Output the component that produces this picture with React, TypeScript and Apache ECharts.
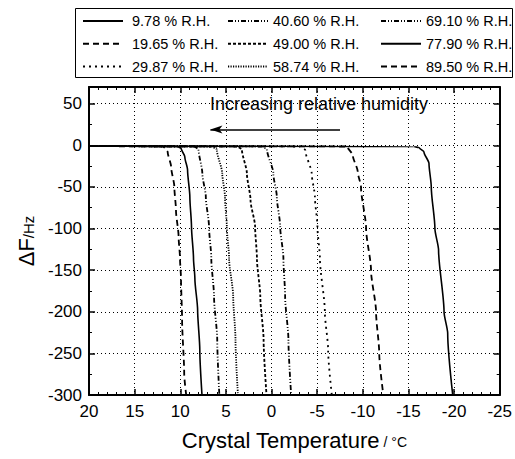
import React, { useEffect, useRef } from "react";
import * as echarts from "echarts";

const seriesNames = [
  "9.78 % R.H.",
  "19.65 % R.H.",
  "29.87 % R.H.",
  "40.60 % R.H.",
  "49.00 % R.H.",
  "58.74 % R.H.",
  "69.10 % R.H.",
  "77.90 % R.H.",
  "89.50 % R.H.",
];

const rh978 = [[20, -1], [-15.6, -1.5], [-16.2, -3], [-16.7, -8], [-17.25, -22], [-17.5, -50], [-17.9, -100], [-18.3, -126], [-18.9, -200], [-19.3, -226], [-19.85, -300]];
const rh1965 = [[20, -1], [-8.3, -1.5], [-8.9, -12], [-9.45, -32], [-9.8, -50], [-10.36, -100], [-10.9, -150], [-11.45, -200], [-11.8, -250], [-12.25, -300]];
const rh2987 = [[20, -1], [-3.2, -1.5], [-3.7, -6], [-4.4, -34], [-4.75, -62], [-5.03, -98], [-5.3, -136], [-5.84, -200], [-6.2, -246], [-6.6, -300]];
const rh4060 = [[20, -1], [1.0, -1.5], [0.5, -5], [-0.2, -34], [-0.58, -62], [-0.95, -98], [-1.3, -136], [-1.49, -182], [-1.85, -234], [-2.15, -300]];
const rh4900 = [[20, -1], [3.7, -1.5], [3.25, -5], [2.7, -34], [2.3, -66], [1.8, -98], [1.6, -136], [1.23, -182], [0.87, -234], [0.55, -300]];
const rh5874 = [[20, -1], [6.5, -1.5], [6.0, -5], [5.4, -34], [5.1, -62], [4.9, -98], [4.65, -136], [4.2, -182], [3.95, -234], [3.68, -300]];
const rh6910 = [[20, -1], [8.4, -1.5], [8.0, -5], [7.58, -34], [7.2, -62], [6.85, -98], [6.6, -136], [6.3, -182], [5.95, -234], [5.72, -300]];
const rh7790 = [[20, -1], [10.3, -1.5], [9.9, -4], [9.5, -14], [9.2, -30], [8.95, -62], [8.77, -98], [8.55, -136], [8.4, -160], [8.1, -198], [7.86, -246], [7.62, -300]];
const rh8950 = [[20, -1], [11.9, -1.5], [11.6, -4], [11.38, -8], [11.0, -26], [10.65, -50], [10.47, -78], [10.18, -110], [10.03, -136], [9.92, -160], [9.8, -210], [9.57, -274], [9.35, -300]];

const seriesData = [rh978, rh1965, rh2987, rh4060, rh4900, rh5874, rh6910, rh7790, rh8950];

const dashTypes: any[] = [
  "solid",
  [6, 4],
  [2, 4],
  [5, 2, 1, 2, 1, 2],
  [3, 2],
  [1.2, 1.3],
  [5, 2, 1, 2, 1, 2],
  "solid",
  [6, 4],
];
const lineWidths = [1.6, 1.8, 1.8, 1.8, 1.8, 1.8, 1.8, 1.6, 1.8];

const arrowFrom = [-7.5, 19];
const arrowTo = [6.7, 19];

const FONT = "Liberation Sans, Arial, sans-serif";

export default function App() {
  const ref = useRef<HTMLDivElement>(null);
  useEffect(() => {
    if (!ref.current) return;
    const chart = echarts.init(ref.current, null, { renderer: "svg" });
    const series: any[] = seriesNames.map((name, i) => ({
      name,
      type: "line",
      data: seriesData[i],
      symbol: "none",
      smooth: 0.25,
      smoothMonotone: "y",
      lineStyle: { color: "#000", width: lineWidths[i], type: dashTypes[i] },
      itemStyle: { color: "#000" },
      z: 3,
    }));
    series[0].markLine = {
      silent: true,
      symbol: ["none", "arrow"],
      symbolSize: [6, 12],
      label: { show: false },
      lineStyle: { color: "#000", width: 1.5, type: "solid" },
      data: [[{ coord: arrowFrom }, { coord: arrowTo }]],
    };
    const legendBase = {
      orient: "vertical",
      top: 13.5,
      padding: 0,
      itemWidth: 40,
      itemHeight: 14,
      itemGap: 7.8,
      itemStyle: { opacity: 0 },
      textStyle: { fontFamily: FONT, fontSize: 14.5, color: "#000" },
      selectedMode: false,
    };
    const axisCommonX = {
      type: "value",
      min: -25,
      max: 20,
      interval: 5,
      inverse: true,
      axisLine: { show: true, onZero: false, lineStyle: { color: "#000", width: 2 } },
      axisTick: { show: true, inside: true, length: 6, lineStyle: { color: "#000", width: 1.5 } },
      minorTick: { show: true, splitNumber: 5, length: 3, lineStyle: { color: "#000", width: 1 } },
    };
    const axisCommonY = {
      type: "value",
      min: -300,
      max: 70,
      interval: 50,
      axisLine: { show: true, onZero: false, lineStyle: { color: "#000", width: 2 } },
      axisTick: { show: true, inside: true, length: 6, lineStyle: { color: "#000", width: 1.5 } },
      minorTick: { show: true, splitNumber: 2, length: 3, lineStyle: { color: "#000", width: 1 } },
    };
    chart.setOption({
      animation: false,
      backgroundColor: "#fff",
      grid: { left: 89, right: 12, top: 87, bottom: 64, containLabel: false },
      legend: [
        { ...legendBase, left: 82, data: seriesNames.slice(0, 3), textStyle: { ...legendBase.textStyle, padding: [0, 0, 0, 4] } },
        { ...legendBase, left: 227, data: seriesNames.slice(3, 6) },
        { ...legendBase, left: 380, data: seriesNames.slice(6, 9) },
      ],
      xAxis: [
        {
          ...axisCommonX,
          position: "bottom",
          name: "{a|Crystal Temperature}{b| / °C}",
          nameLocation: "middle",
          nameGap: 34,
          nameTextStyle: {
            rich: {
              a: { fontFamily: FONT, fontSize: 22, color: "#000" },
              b: { fontFamily: FONT, fontSize: 14, color: "#000", padding: [4, 0, 0, 0] },
            },
          },
          axisLabel: { show: true, margin: 8, fontFamily: FONT, fontSize: 17, color: "#000" },
          splitLine: { show: true, lineStyle: { color: "#000", width: 1, type: [1, 3] } },
        },
        {
          ...axisCommonX,
          position: "top",
          axisLabel: { show: false },
          splitLine: { show: false },
        },
      ],
      yAxis: [
        {
          ...axisCommonY,
          position: "left",
          name: "{a|ΔF}{b|/Hz}",
          nameLocation: "middle",
          nameRotate: 90,
          nameGap: 50,
          nameTextStyle: {
            rich: {
              a: { fontFamily: FONT, fontSize: 22, color: "#000" },
              b: { fontFamily: FONT, fontSize: 15, color: "#000", padding: [4, 0, 0, 0] },
            },
          },
          axisLabel: {
            show: true,
            margin: 7,
            fontFamily: FONT,
            fontSize: 17,
            color: "#000",
            formatter: (v: number) => (v === 70 ? "" : String(v)),
          },
          splitLine: { show: true, lineStyle: { color: "#000", width: 1, type: [1, 3] } },
        },
        {
          ...axisCommonY,
          position: "right",
          axisLabel: { show: false },
          splitLine: { show: false },
        },
      ],
      graphic: [
        {
          type: "rect",
          shape: { x: 75.5, y: 8.5, width: 437, height: 69 },
          style: { fill: "none", stroke: "#000", lineWidth: 1 },
          z: 100,
        },
        {
          type: "text",
          left: 210,
          top: 95,
          style: { text: "Increasing relative humidity", font: `18px ${FONT}`, fill: "#000" },
          z: 100,
        },
      ],
      series,
    });
    return () => chart.dispose();
  }, []);
  return <div ref={ref} style={{ position: "absolute", left: 0, top: 0, width: 515, height: 459 }} />;
}
